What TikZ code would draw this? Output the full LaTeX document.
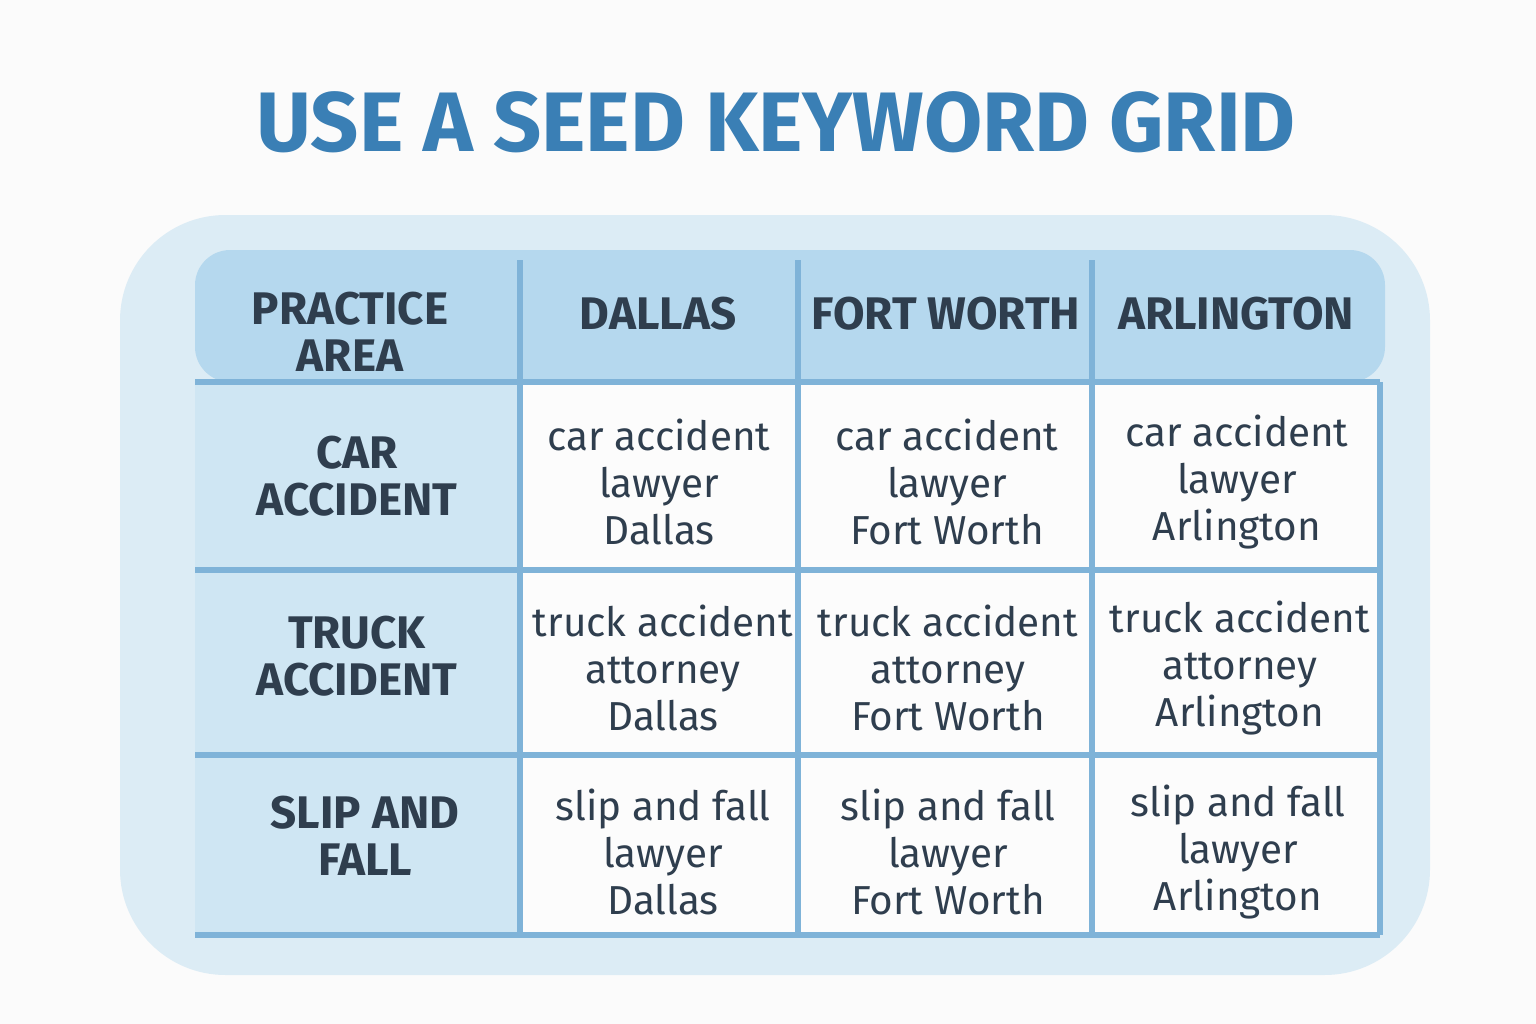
\documentclass[tikz,border=0pt]{standalone}
\usepackage{fontspec}
\setmainfont{Fira Sans}
\usetikzlibrary{positioning}
\definecolor{inkblue}{HTML}{3A7FB5}
\definecolor{wash}{HTML}{CFE6F3}
\definecolor{washdark}{HTML}{B5D8EE}
\definecolor{gridline}{HTML}{7FB3D8}
\definecolor{txt}{HTML}{2F3E4E}
\tikzset{
  head/.style={text=txt,font=\fontsize{13}{13.5}\selectfont\bfseries,align=center},
  cell/.style={text=txt,font=\fontsize{11.5}{13.3}\selectfont,align=center},
}
\begin{document}
\begin{tikzpicture}[x=0.01cm,y=-0.01cm]
\useasboundingbox[fill=white!97!gray] (0,0) rectangle (1536,1024);
% watercolour wash
\fill[wash,opacity=0.7,rounded corners=30] (120,215) rectangle (1430,975);
\fill[washdark,rounded corners=10] (195,250) rectangle (1385,382);
\fill[wash] (195,382) rectangle (520,935);
\fill[white!98!gray] (520,382) rectangle (1380,935);
% grid
\foreach \x in {520,798,1092}
  \draw[gridline,line width=1.5pt] (\x,260) -- (\x,935);
\foreach \y in {382,570,755,935}
  \draw[gridline,line width=1.5pt] (195,\y) -- (1380,\y);
\draw[gridline,line width=1.5pt] (1380,382) -- (1380,935);
% title
\node[text=inkblue,font=\fontsize{24}{28}\selectfont\bfseries] (title) at (776,122) {USE A SEED KEYWORD GRID};
% header
\node[head] (practice) at (350,332) {PRACTICE\\AREA};
\node[head] (dallas) at (658,314) {DALLAS};
\node[head] (fortworth) at (946,314) {FORT WORTH};
\node[head] (arlington) at (1236,314) {ARLINGTON};
\node[head] (car) at (357,476) {CAR\\ACCIDENT};
\node[head] (truck) at (357,656) {TRUCK\\ACCIDENT};
\node[head] (slip) at (365,836) {SLIP AND\\FALL};
% body
\node[cell] (c1) at (659,482) {car accident\\lawyer\\Dallas};
\node[cell] (c2) at (947,482) {car accident\\lawyer\\Fort Worth};
\node[cell] (c3) at (1237,482) {car accident\\lawyer\\Arlington};
\node[cell] (t1) at (663,668) {truck accident\\attorney\\Dallas};
\node[cell] (t2) at (948,668) {truck accident\\attorney\\Fort Worth};
\node[cell] (t3) at (1240,668) {truck accident\\attorney\\Arlington};
\node[cell] (s1) at (663,852) {slip and fall\\lawyer\\Dallas};
\node[cell] (s2) at (948,852) {slip and fall\\lawyer\\Fort Worth};
\node[cell] (s3) at (1238,852) {slip and fall\\lawyer\\Arlington};
\end{tikzpicture}
\end{document}
